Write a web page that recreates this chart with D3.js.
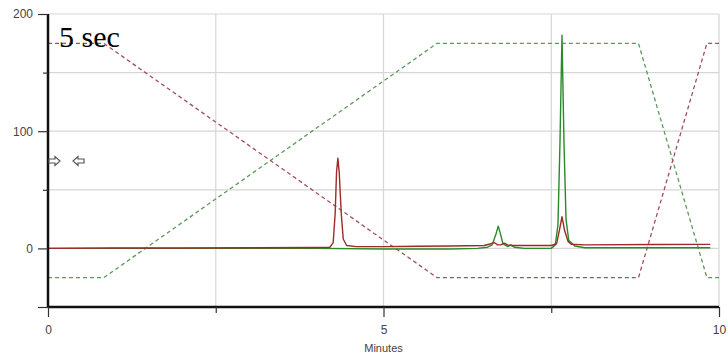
<!DOCTYPE html>
<html>
<head>
<meta charset="utf-8">
<script src="https://cdn.jsdelivr.net/npm/d3@7"></script>
<style>
  body { margin: 0; background: #fff; }
  svg { display: block; }
</style>
</head>
<body>
<svg id="svgId"></svg>
<script>
// gradient program (dashed)
var gradTime = [0, 0.83, 5.8, 8.8, 9.82, 10];
var gradRed = [175, 175, -25, -25, 175, 175];
var gradGreen = [-25, -25, 175, 175, -25, -25];

// red trace
var redTime = [0, 1, 2, 3, 4, 4.2, 4.25, 4.28, 4.3, 4.32, 4.34, 4.37, 4.4, 4.45, 4.6, 5, 5.5, 6, 6.5, 6.6, 6.65, 6.7, 6.75, 6.8, 6.85, 6.9, 7, 7.5, 7.58, 7.62, 7.66, 7.7, 7.75, 7.8, 8, 9, 9.87];
var redVal = [0, 0.3, 0.3, 0.5, 0.8, 1, 5, 30, 65, 77, 65, 30, 8, 2.5, 1.5, 1.5, 1.8, 2, 2.5, 4, 5, 3, 3, 4.5, 3, 2.5, 2.5, 2.5, 4, 15, 27, 15, 6, 3.5, 3, 3.3, 3.4];

// green trace
var greenTime = [0, 4, 5, 6, 6.4, 6.55, 6.62, 6.68, 6.71, 6.74, 6.78, 6.85, 6.9, 6.95, 7.1, 7.5, 7.56, 7.6, 7.63, 7.66, 7.69, 7.72, 7.76, 7.85, 8, 9, 9.87];
var greenVal = [0, 0, -0.5, -0.5, 0, 1, 3, 13, 19, 13, 4, 1.5, 3, 1, 0, 0, 3, 20, 90, 182, 90, 25, 7, 2, 0.5, 0.5, 0.5];

var xTicks = [0, 2.5, 5, 7.5, 10];
var yTicks = [-50, 0, 50, 100, 150, 200];

function zip(t, v) {
    var arr = [];
    for (var i = 0; i < t.length; i++) arr.push([t[i], v[i]]);
    return arr;
}

var svg = d3.select("#svgId").attr("width", 728).attr("height", 356);

var x = d3.scaleLinear().domain([0, 10]).range([48, 719]);
var y = d3.scaleLinear().domain([-50, 200]).range([307, 14]);

// grid
svg.append("g").selectAll("line").data([0, 50, 100, 150, 200]).join("line")
    .attr("x1", x(0)).attr("x2", x(10))
    .attr("y1", function (d) { return y(d) }).attr("y2", function (d) { return y(d) })
    .attr("stroke", "#d6d6d6").attr("stroke-width", 1.2);
svg.append("g").selectAll("line").data([2.5, 5, 7.5, 10]).join("line")
    .attr("x1", function (d) { return x(d) }).attr("x2", function (d) { return x(d) })
    .attr("y1", y(200)).attr("y2", y(-50))
    .attr("stroke", "#d6d6d6").attr("stroke-width", 1.2);

var line = d3.line()
    .x(function (d) { return x(d[0]) })
    .y(function (d) { return y(d[1]) });

// dashed gradient lines
svg.append("path").datum(zip(gradTime, gradGreen))
    .attr("fill", "none").attr("stroke", "#5a9a5a").attr("stroke-width", 1.3)
    .attr("stroke-dasharray", "4,3").attr("d", line);
svg.append("path").datum(zip(gradTime, gradRed))
    .attr("fill", "none").attr("stroke", "#a0505a").attr("stroke-width", 1.3)
    .attr("stroke-dasharray", "4,3").attr("d", line);

// traces
svg.append("path").datum(zip(greenTime, greenVal))
    .attr("fill", "none").attr("stroke", "#2a8a2a").attr("stroke-width", 1.4)
    .attr("stroke-linejoin", "round").attr("d", line);
svg.append("path").datum(zip(redTime, redVal))
    .attr("fill", "none").attr("stroke", "#9e2a2a").attr("stroke-width", 1.4)
    .attr("stroke-linejoin", "round").attr("d", line);

// axes
var yAxis = svg.append("g")
    .attr("transform", "translate(" + x(0) + ",0)")
    .call(d3.axisLeft(y).tickValues(yTicks).tickSize(10).tickPadding(5)
        .tickFormat(function (d) { return d % 100 === 0 && d >= 0 ? d : "" }));
var xAxis = svg.append("g")
    .attr("transform", "translate(0," + y(-50) + ")")
    .call(d3.axisBottom(x).tickValues(xTicks).tickSize(10).tickPadding(8)
        .tickFormat(function (d) { return d % 5 === 0 ? d : "" }));

[yAxis, xAxis].forEach(function (a) {
    a.select(".domain").attr("stroke", "#111").attr("stroke-width", 2.5);
    a.selectAll(".tick line").attr("stroke", "#333").attr("stroke-width", 1.2);
    a.selectAll(".tick text").attr("fill", "#444")
        .style("font-family", "'Liberation Sans', Arial, sans-serif").style("font-size", "12px");
});
xAxis.select(".domain").attr("d", "M" + x(0) + ",0H" + x(10));
yAxis.select(".domain").attr("d", "M0," + y(200) + "V" + y(-50));
// short minor ticks
xAxis.selectAll(".tick").filter(function (d) { return d % 5 !== 0 })
    .select("line").attr("y2", 6);
yAxis.selectAll(".tick").filter(function (d) { return d === 50 || d === 150 })
    .select("line").attr("x2", -5);

svg.append("text")
    .attr("x", x(5)).attr("y", 352)
    .attr("text-anchor", "middle")
    .attr("fill", "#444")
    .style("font-family", "'Liberation Sans', Arial, sans-serif").style("font-size", "11px")
    .text("Minutes");

// little outlined arrows next to the y axis
var arrowRight = "M0,-2H6V-4.5L11,0L6,4.5V2H0Z";
var arrowLeft = "M11,-2H5V-4.5L0,0L5,4.5V2H11Z";
svg.append("path").attr("d", arrowRight).attr("transform", "translate(49,161)")
    .attr("fill", "#fff").attr("stroke", "#555").attr("stroke-width", 1.2);
svg.append("path").attr("d", arrowLeft).attr("transform", "translate(73,161)")
    .attr("fill", "#fff").attr("stroke", "#555").attr("stroke-width", 1.2);

svg.append("text")
    .attr("x", 59).attr("y", 47)
    .attr("fill", "#000")
    .style("font-family", "'Liberation Serif', 'Times New Roman', serif").style("font-size", "30px")
    .text("5 sec");
</script>
</body>
</html>
